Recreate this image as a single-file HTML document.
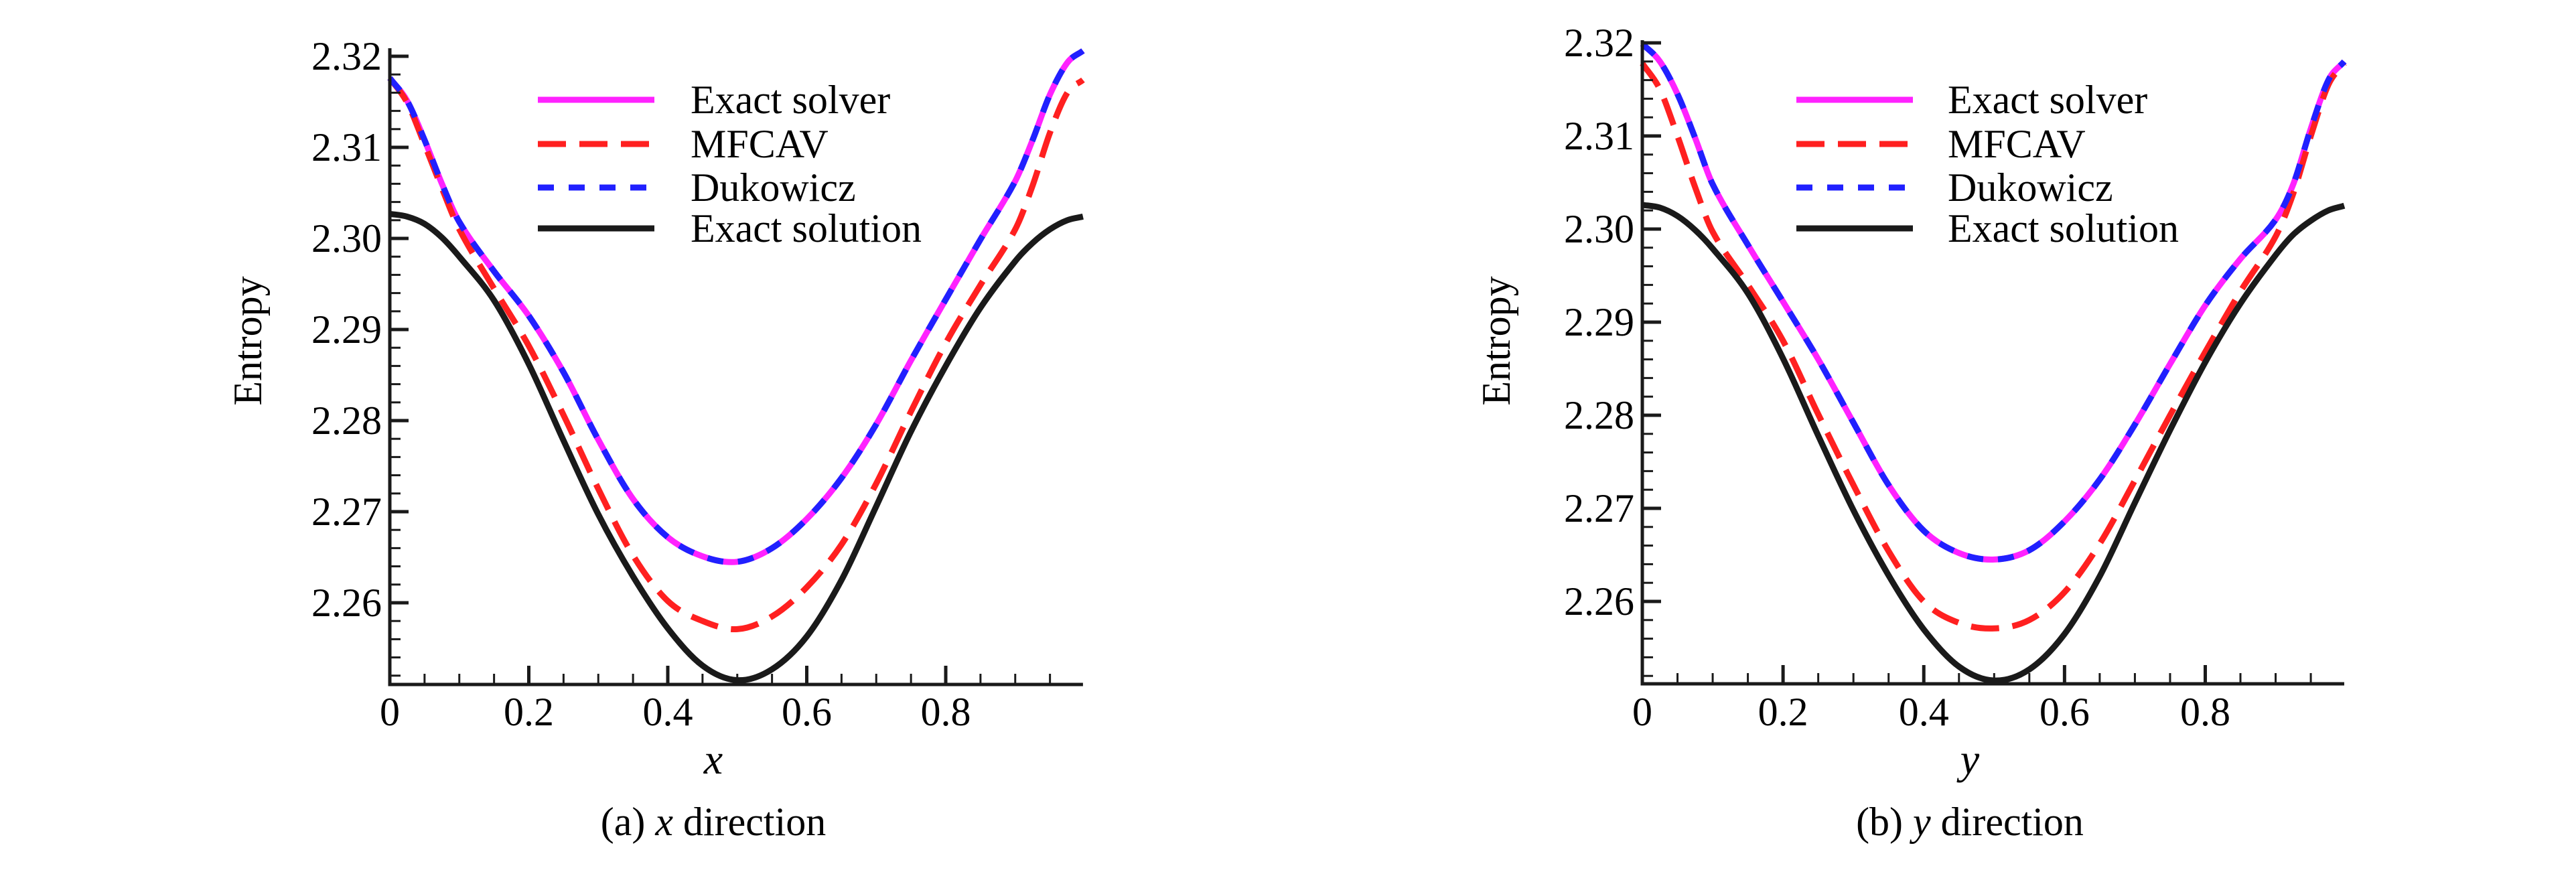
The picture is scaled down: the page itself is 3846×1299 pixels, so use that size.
<!DOCTYPE html>
<html><head><meta charset="utf-8">
<style>
html,body{margin:0;padding:0;background:#fff;}
svg{display:block;}
svg text{font-family:"Liberation Serif","Times New Roman",Times,"DejaVu Serif","Noto Serif CJK SC",serif;fill:#000;}
</style></head>
<body>
<svg id="fig" width="3846" height="1299" viewBox="0 0 3846 1299" xmlns="http://www.w3.org/2000/svg"></svg>
<script>
const xs = [0,0.025,0.05,0.075,0.1,0.15,0.2,0.25,0.3,0.35,0.4,0.45,0.5,0.55,0.6,0.65,0.7,0.75,0.8,0.85,0.9,0.925,0.95,0.975,0.9975];
const yTickLabels = ["2.26","2.27","2.28","2.29","2.30","2.31","2.32"];
const yTickValues = [2.26,2.27,2.28,2.29,2.30,2.31,2.32];
const xTickLabels = ["0","0.2","0.4","0.6","0.8"];
const xTickValues = [0,0.2,0.4,0.6,0.8];
const seriesNames = ["Exact solver","MFCAV","Dukowicz","Exact solution"];

const aExactSolver = [2.3176,2.3151,2.3108,2.3060,2.3018,2.2964,2.2915,2.2853,2.2779,2.2714,2.2672,2.2651,2.2645,2.2660,2.2692,2.2737,2.2796,2.2866,2.2933,2.2999,2.3063,2.3108,2.3158,2.3193,2.3206];
const aMFCAV       = [2.3176,2.3149,2.3103,2.3055,2.3010,2.2945,2.2882,2.2806,2.2725,2.2652,2.2602,2.2580,2.2571,2.2585,2.2617,2.2664,2.2731,2.2810,2.2885,2.2949,2.3010,2.3058,2.3116,2.3160,2.3174];
const aDukowicz    = [2.3176,2.3151,2.3108,2.3060,2.3018,2.2964,2.2915,2.2853,2.2779,2.2714,2.2672,2.2651,2.2645,2.2660,2.2692,2.2737,2.2796,2.2866,2.2933,2.2999,2.3063,2.3108,2.3158,2.3193,2.3206];
const aExactSol    = [2.3027,2.3024,2.3016,2.3001,2.2980,2.2932,2.2862,2.2778,2.2697,2.2629,2.2572,2.2531,2.2515,2.2527,2.2563,2.2625,2.2706,2.2788,2.2860,2.2924,2.2975,2.2995,2.3010,2.3020,2.3024];

const bExactSolver = [2.3199,2.3180,2.3145,2.3098,2.3048,2.2983,2.2922,2.2860,2.2792,2.2725,2.2676,2.2652,2.2645,2.2655,2.2686,2.2731,2.2790,2.2855,2.2918,2.2968,2.3010,2.3048,2.3108,2.3160,2.3180];
const bMFCAV       = [2.3178,2.3150,2.3100,2.3045,2.2997,2.2940,2.2880,2.2801,2.2725,2.2654,2.2600,2.2577,2.2571,2.2580,2.2610,2.2662,2.2730,2.2800,2.2868,2.2933,2.2992,2.3038,2.3100,2.3155,2.3178];
const bDukowicz    = [2.3199,2.3180,2.3145,2.3098,2.3048,2.2983,2.2922,2.2860,2.2792,2.2725,2.2676,2.2652,2.2645,2.2655,2.2686,2.2731,2.2790,2.2855,2.2918,2.2968,2.3010,2.3048,2.3108,2.3160,2.3180];
const bExactSol    = [2.3026,2.3023,2.3014,2.2999,2.2979,2.2931,2.2861,2.2778,2.2698,2.2628,2.2570,2.2530,2.2515,2.2527,2.2565,2.2627,2.2706,2.2784,2.2857,2.2920,2.2972,2.2994,2.3009,2.3020,2.3025];

const NS = "http://www.w3.org/2000/svg";
const svg = document.getElementById('fig');
function mk(tag, attrs, parent){
  const e = document.createElementNS(NS, tag);
  for (const k in attrs) e.setAttribute(k, attrs[k]);
  (parent||svg).appendChild(e);
  return e;
}
function smoothPath(pts){
  const n = pts.length, m = [];
  for (let i=0;i<n;i++){
    const a = pts[Math.max(0,i-1)], b = pts[Math.min(n-1,i+1)];
    m.push((b[1]-a[1])/(b[0]-a[0]));
  }
  let d = "M"+pts[0][0].toFixed(1)+","+pts[0][1].toFixed(1);
  for (let i=0;i<n-1;i++){
    const p1=pts[i], p2=pts[i+1], h=(p2[0]-p1[0])/3;
    d += " C"+(p1[0]+h).toFixed(1)+","+(p1[1]+m[i]*h).toFixed(1)+" "+(p2[0]-h).toFixed(1)+","+(p2[1]-m[i+1]*h).toFixed(1)+" "+p2[0].toFixed(1)+","+p2[1].toFixed(1);
  }
  return d;
}
const styles = [
  {stroke:"#ff22ff", dash:null},
  {stroke:"#ff2020", dash:"42 20"},
  {stroke:"#2020ff", dash:"24 22"},
  {stroke:"#1a1a1a", dash:null}
];

function panel(cfg, series, tag){
  const g = mk('g', {});
  
  
  const X = v => cfg.x0 + v*cfg.xs;
  const Y = v => cfg.y32 + (2.32 - v)*cfg.ys;
  const yBot = cfg.yBot, xEnd = X(0.9975);
  const sg = mk('g', {}, g);
  
  
  [0,1,3,2].forEach(i=>{
    const pts = xs.map((x,k)=>[X(x), Y(series[i][k])]);
    const p = mk('path', {d:smoothPath(pts), fill:"none", stroke:styles[i].stroke, "stroke-width":9, "stroke-linejoin":"round"}, sg);
    if (styles[i].dash) p.setAttribute('stroke-dasharray', styles[i].dash);
    
    
  });
  const ax = mk('path', {d:`M${cfg.x0},${cfg.axTop} L${cfg.x0},${yBot} L${xEnd},${yBot}`, fill:"none", stroke:"#1a1a1a", "stroke-width":5}, g);
  
  
  for (let v=2.252; v<=2.3201; v+=0.002){
    const major = Math.abs(Math.round(v*100)-v*100) < 1e-6;
    const t = mk('line', {x1:cfg.x0, x2:cfg.x0+(major?28:16), y1:Y(v), y2:Y(v), stroke:"#1a1a1a", "stroke-width":major?5:3}, g);
    
    
  }
  yTickValues.forEach((v,i)=>{
    const t = mk('text', {x:cfg.x0-12, y:Y(v)+20, "text-anchor":"end", "font-size":60}, g);
    t.textContent = yTickLabels[i];
    
    
  });
  for (let v=0.05; v<0.99; v+=0.05){
    const major = Math.abs(Math.round(v*5)-v*5) < 1e-6;
    const t = mk('line', {x1:X(v), x2:X(v), y1:yBot, y2:yBot-(major?28:16), stroke:"#1a1a1a", "stroke-width":major?5:3}, g);
    
    
  }
  xTickValues.forEach((v,i)=>{
    const t = mk('text', {x:X(v), y:1083, "text-anchor":"middle", "font-size":60}, g);
    t.textContent = xTickLabels[i];
    
    
  });
  const yl = mk('text', {x:0, y:0, "text-anchor":"middle", "font-size":60, transform:`translate(${cfg.ylx},509) rotate(-90)`}, g);
  yl.textContent = "Entropy";
  
  
  const xl = mk('text', {x:cfg.cx, y:1155, "text-anchor":"middle", "font-size":64, "font-style":"italic"}, g);
  xl.textContent = cfg.var;
  
  
  const cap = mk('text', {x:cfg.cx, y:1247, "text-anchor":"middle", "font-size":60}, g);
  cap.appendChild(document.createTextNode(cfg.capA));
  const ts = mk('tspan', {"font-style":"italic"}, cap);
  ts.textContent = cfg.var;
  cap.appendChild(document.createTextNode(" direction"));
  
  
  const lg = mk('g', {}, g);
  
  
  const ly = [149,215,280,341];
  seriesNames.forEach((n,i)=>{
    const e = mk('g', {}, lg);
    
    
    const l = mk('line', {x1:cfg.lg0, x2:cfg.lg1, y1:ly[i], y2:ly[i], stroke:styles[i].stroke, "stroke-width":9}, e);
    if (styles[i].dash) l.setAttribute('stroke-dasharray', styles[i].dash);
    
    
    const t = mk('text', {x:cfg.lt, y:ly[i]+20, "font-size":60}, e);
    t.textContent = n;
    
    
  });
}

panel({x0:582, xs:1037.5, y32:84, ys:13600, yBot:1022, axTop:72, ylx:390, cx:1065, var:"x", capA:"(a) ", lg0:803, lg1:977, lt:1031},
  [aExactSolver,aMFCAV,aDukowicz,aExactSol], "a");
panel({x0:2452, xs:1050.6, y32:64, ys:13900, yBot:1021, axTop:60, ylx:2254, cx:2941, var:"y", capA:"(b) ", lg0:2682, lg1:2856, lt:2908},
  [bExactSolver,bMFCAV,bDukowicz,bExactSol], "b");
</script>
</body></html>
